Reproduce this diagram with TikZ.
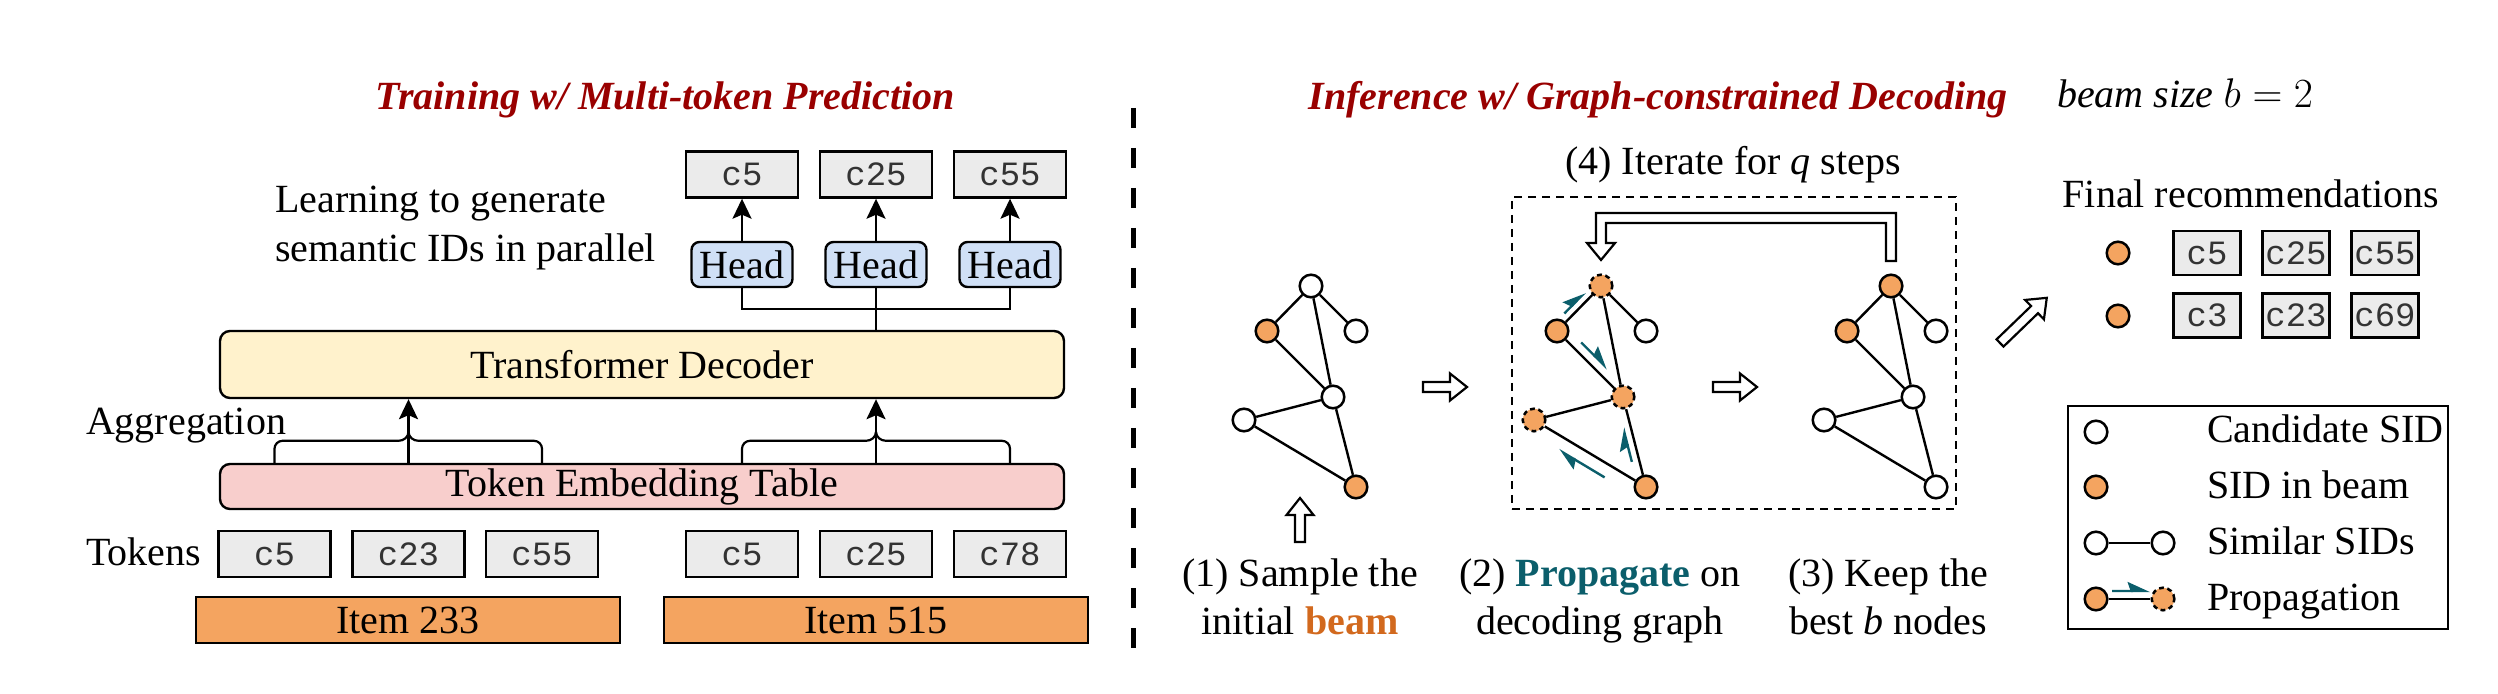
\documentclass[tikz,border=0pt]{standalone}
\usepackage{fontspec}
\setmainfont{Liberation Serif}
\setmonofont{Liberation Mono}
\usetikzlibrary{arrows.meta,calc}
\definecolor{titlered}{HTML}{990000}
\definecolor{beamor}{HTML}{F4A460}
\definecolor{boxgrey}{HTML}{EBEBEB}
\definecolor{headblue}{HTML}{D0E0F6}
\definecolor{tedyellow}{HTML}{FFF2CC}
\definecolor{tetpink}{HTML}{F8CECC}
\definecolor{propteal}{HTML}{0B5E6B}
\definecolor{beamtxt}{HTML}{D2691E}
\begin{document}
\begin{tikzpicture}[x=0.5pt,y=-0.5pt,
  font=\fontsize{20}{24}\selectfont,
  box/.style={draw, line width=1.2pt, inner sep=0pt},
  tok/.style={box, fill=boxgrey, minimum width=56pt, minimum height=23pt, font=\ttfamily\fontsize{17}{17}\selectfont, text=black!80},
  rtok/.style={tok, minimum width=33.5pt, minimum height=22pt},
  headbox/.style={box, rounded corners=4pt, fill=headblue, minimum width=50.5pt, minimum height=22.5pt},
  titletext/.style={font=\fontsize{20}{24}\selectfont\bfseries\itshape, text=titlered},
  conn/.style={line width=1.1pt},
  arr/.style={conn, -{Stealth[length=10pt,width=9.5pt,inset=2pt]}},
  gnode/.style={circle, draw, line width=1.25pt, minimum size=11.3pt, inner sep=0pt},
  cand/.style={gnode, fill=white},
  inbeam/.style={gnode, fill=beamor},
  propn/.style={gnode, fill=beamor, dash pattern=on 2.4pt off 1.8pt},
  gedge/.style={line width=1.2pt},
  propar/.style={draw=propteal, line width=1.2pt, -{Stealth[harpoon,length=10pt,width=9pt,inset=1.5pt]}},
  pics/openarrow/.style={code={
    \draw[line width=1.1pt, fill=white] (0,-5) -- ({#1-17},-5) -- ({#1-17},-13.5) -- (#1,0)
      -- ({#1-17},13.5) -- ({#1-17},5) -- (0,5) -- cycle;}}
]
\useasboundingbox (0,0) rectangle (2498,694);

% ---------------- Left: training ----------------
\node[titletext, anchor=base] (t1) at (665,110) {Training w/ Multi-token Prediction};

\node[tok] (o1) at (742,174.5) {c5};
\node[tok] (o2) at (876,174.5) {c25};
\node[tok] (o3) at (1010,174.5) {c55};

\node[headbox] (h1) at (742,264.5) {Head};
\node[headbox] (h2) at (876,264.5) {Head};
\node[headbox] (h3) at (1010,264.5) {Head};

\draw[arr] (h1) -- (o1);
\draw[arr] (h2) -- (o2);
\draw[arr] (h3) -- (o3);

\node[anchor=base west] (learn1) at (268,213) {Learning to generate};
\node[anchor=base west] (learn2) at (268,262) {semantic IDs in parallel};

\node[box, rounded corners=5pt, fill=tedyellow, minimum width=422pt, minimum height=33.5pt] (ted) at (642,364.5) {Transformer Decoder};
\node[box, rounded corners=5pt, fill=tetpink, minimum width=422pt, minimum height=22.5pt] (tet) at (642,486.5) {Token Embedding Table};

\draw[conn] (h1.south) -- ++(0,21) -| (h3.south);
\draw[conn] (h2.south) -- (ted.north -| h2.south);

\node[anchor=base west] (agg) at (79,435) {Aggregation};
\node[anchor=base west] (toklab) at (79,565) {Tokens};

\node[tok] (k1) at (274.5,554) {c5};
\node[tok] (k2) at (408.5,554) {c23};
\node[tok] (k3) at (542,554) {c55};
\node[tok] (k4) at (742,554) {c5};
\node[tok] (k5) at (876,554) {c25};
\node[tok] (k6) at (1010,554) {c78};

\node[box, fill=beamor, minimum width=212pt, minimum height=23pt] (i1) at (408,620) {Item 233};
\node[box, fill=beamor, minimum width=212pt, minimum height=23pt] (i2) at (876,620) {Item 515};

% aggregation braces
\draw[conn] (tet.north -| k1) -- ++(0,-14) to[out=90,in=180] ++(8,-8) -- ($(tet.north -| k2)+(-10,-22)$) to[out=0,in=-90] ($(tet.north -| k2)+(0,-31)$);
\draw[conn] (tet.north -| k3) -- ++(0,-14) to[out=90,in=0] ++(-8,-8) -- ($(tet.north -| k2)+(10,-22)$) to[out=180,in=-90] ($(tet.north -| k2)+(0,-31)$);
\draw[arr] (tet.north -| k2) -- (ted.south -| k2);

\draw[conn] (tet.north -| k4) -- ++(0,-14) to[out=90,in=180] ++(8,-8) -- ($(tet.north -| k5)+(-10,-22)$) to[out=0,in=-90] ($(tet.north -| k5)+(0,-31)$);
\draw[conn] (tet.north -| k6) -- ++(0,-14) to[out=90,in=0] ++(-8,-8) -- ($(tet.north -| k5)+(10,-22)$) to[out=180,in=-90] ($(tet.north -| k5)+(0,-31)$);
\draw[arr] (tet.north -| k5) -- (ted.south -| k5);

% divider
\draw[line width=2.5pt, dash pattern=on 10pt off 10pt] (1133,108) -- (1133,652);

% ---------------- Right: inference ----------------
\node[titletext, anchor=base] (t2) at (1658,110) {Inference w/ Graph-constrained Decoding};
\node[anchor=base west] (bs) at (2050,108) {\itshape beam size \upshape$b=2$};

\node[anchor=base] (iter) at (1733,175) {(4) Iterate for \textit{q} steps};
\node[draw, line width=1pt, dash pattern=on 4pt off 3pt, minimum width=222pt, minimum height=156pt] (ibox) at (1734,353) {};

% graph 1
\node[cand]   (a1) at (1311,286) {};
\node[inbeam] (a2) at (1267,331) {};
\node[cand]   (a3) at (1356,331) {};
\node[cand]   (a4) at (1333,397) {};
\node[cand]   (a5) at (1244,420) {};
\node[inbeam] (a6) at (1356,487) {};
\draw[gedge] (a1) -- (a2) (a1) -- (a3) (a1) -- (a4) (a2) -- (a4) (a4) -- (a5) (a5) -- (a6) (a4) -- (a6);

% graph 2
\node[propn]  (b1) at (1601,286) {};
\node[inbeam] (b2) at (1557,331) {};
\node[cand]   (b3) at (1646,331) {};
\node[propn]  (b4) at (1623,397) {};
\node[propn]  (b5) at (1534,420) {};
\node[inbeam] (b6) at (1646,487) {};
\draw[gedge] (b1) -- (b2) (b1) -- (b3) (b1) -- (b4) (b2) -- (b4) (b4) -- (b5) (b5) -- (b6) (b4) -- (b6);
\draw[propar] ($(b2)!0.28!(b1)!3.5pt!90:(b1)$) -- ($(b2)!0.75!(b1)!3.5pt!90:(b1)$);
\draw[propar] ($(b2)!0.27!(b4)!4.5pt!90:(b4)$) -- ($(b2)!0.67!(b4)!4.5pt!90:(b4)$);
\draw[propar] ($(b6)!0.30!(b4)!3.75pt!90:(b4)$) -- ($(b6)!0.68!(b4)!3.75pt!90:(b4)$);
\draw[propar] ($(b6)!0.31!(b5)!6.5pt!90:(b5)$) -- ($(b6)!0.72!(b5)!6.5pt!90:(b5)$);

% graph 3
\node[inbeam] (c1) at (1891,286) {};
\node[inbeam] (c2) at (1847,331) {};
\node[cand]   (c3) at (1936,331) {};
\node[cand]   (c4) at (1913,397) {};
\node[cand]   (c5) at (1824,420) {};
\node[cand]   (c6) at (1936,487) {};
\draw[gedge] (c1) -- (c2) (c1) -- (c3) (c1) -- (c4) (c2) -- (c4) (c4) -- (c5) (c5) -- (c6) (c4) -- (c6);

% open arrows
\pic at (1423,387) {openarrow=44};
\pic at (1713,387) {openarrow=44};
\pic[rotate=90] at (1300,542) {openarrow=44};
\pic[rotate=44] at (2000,343) {openarrow=65};

% feedback arrow
\draw[line width=1.1pt, fill=white] (1896,261) -- (1896,213) -- (1596,213) -- (1596,243) -- (1587,243) -- (1601,260) -- (1615,243) -- (1606,243) -- (1606,223) -- (1886,223) -- (1886,261) -- cycle;

% captions
\node[anchor=base] (cap1a) at (1300,586) {(1) Sample the};
\node[anchor=base] (cap1b) at (1300,634) {initial \textbf{\color{beamtxt}beam}};
\node[anchor=base] (cap2a) at (1600,586) {(2) \textbf{\color{propteal}Propagate} on};
\node[anchor=base] (cap2b) at (1600,634) {decoding graph};
\node[anchor=base] (cap3a) at (1888,586) {(3) Keep the};
\node[anchor=base] (cap3b) at (1888,634) {best \textit{b} nodes};

% final recommendations
\node[anchor=base] (fr) at (2251,208) {Final recommendations};
\node[inbeam] (f1) at (2118,253) {};
\node[inbeam] (f2) at (2118,316) {};
\node[rtok] (r1) at (2207,253) {c5};
\node[rtok] (r2) at (2296,253) {c25};
\node[rtok] (r3) at (2385,253) {c55};
\node[rtok] (r4) at (2207,315.5) {c3};
\node[rtok] (r5) at (2296,315.5) {c23};
\node[rtok] (r6) at (2385,315.5) {c69};

% legend
\node[draw, line width=0.8pt, minimum width=190pt, minimum height=111.5pt] (leg) at (2258,517.5) {};
\node[cand] (l1) at (2096,432) {};
\node[inbeam] (l2) at (2096,487) {};
\node[cand] (l3a) at (2096,543) {};
\node[cand] (l3b) at (2163,543) {};
\draw[gedge] (l3a) -- (l3b);
\node[inbeam] (l4a) at (2096,599) {};
\node[propn] (l4b) at (2163,599) {};
\draw[gedge] (l4a) -- (l4b);
\draw[propar] ($(l4a)!0.24!(l4b)!4pt!90:(l4b)$) -- ($(l4a)!0.81!(l4b)!4pt!90:(l4b)$);
\node[anchor=base west] (lt1) at (2200,443) {Candidate SID};
\node[anchor=base west] (lt2) at (2200,498) {SID in beam};
\node[anchor=base west] (lt3) at (2200,554) {Similar SIDs};
\node[anchor=base west] (lt4) at (2200,610) {Propagation};
\end{tikzpicture}
\end{document}
